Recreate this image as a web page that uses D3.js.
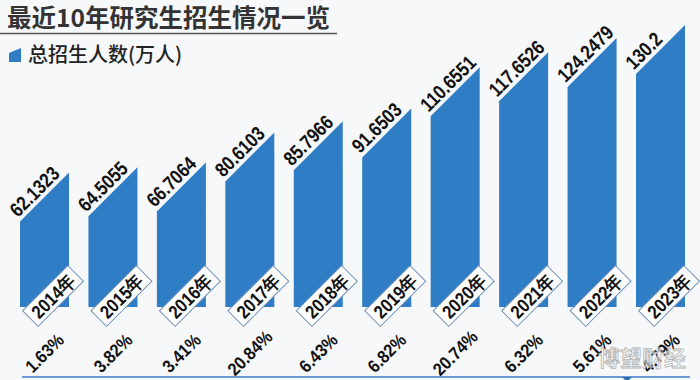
<!DOCTYPE html>
<html><head><meta charset="utf-8">
<script src="https://cdn.jsdelivr.net/npm/d3@7"></script>
<style>
html,body{margin:0;padding:0;background:#f7f8fa;}
svg{display:block;}
</style></head>
<body>
<svg id="chart" width="700" height="380"></svg>
<script>
const years = ["2014年","2015年","2016年","2017年","2018年","2019年","2020年","2021年","2022年","2023年"];
const enrolment = [62.1323,64.5055,66.7064,80.6103,85.7966,91.6503,110.6551,117.6526,124.2479,130.2];
const valueLabels = ["62.1323","64.5055","66.7064","80.6103","85.7966","91.6503","110.6551","117.6526","124.2479","130.2"];
const growth = ["1.63%","3.82%","3.41%","20.84%","6.43%","6.82%","20.74%","6.32%","5.61%","4.79%"];
const title = "最近10年研究生招生情况一览";
const legendLabel = "总招生人数(万人)";

const svg = d3.select("#chart");
const BLUE = "#2f7dc4";
const sans = "'Liberation Sans',Arial,sans-serif";
const cjk = "'Noto Sans CJK SC','Noto Sans',sans-serif";

svg.append("rect").attr("width",700).attr("height",380).attr("fill","#f7f8fa");

// title
svg.append("text").attr("x",7).attr("y",27)
  .attr("font-family",cjk).attr("font-weight",700).attr("font-size",24.5)
  .attr("fill","#333").text(title);
svg.append("line").attr("x1",0).attr("x2",337).attr("y1",33.5).attr("y2",33.5)
  .attr("stroke","#555").attr("stroke-width",1.5);

// legend
svg.append("path").attr("d","M9,53 L21,48 L21,62 L9,62 Z").attr("fill",BLUE);
svg.append("text").attr("x",28).attr("y",62)
  .attr("font-family",cjk).attr("font-weight",500).attr("font-size",20)
  .attr("fill","#222").text(legendLabel);

const x = d3.scaleBand().domain(years).range([20,685]).paddingInner(0.284).paddingOuter(0);
const y = d3.scaleLinear().domain([0,130.2]).range([307,25]);
const bw = x.bandwidth();
const data = years.map((yr,i)=>({yr, v:enrolment[i], lab:valueLabels[i], g:growth[i]}));

// bars with 45-degree cut top
svg.append("g").selectAll("path").data(data).join("path")
  .attr("fill",BLUE)
  .attr("d",d=>{
    const x0=x(d.yr), x1=x0+bw, yt=y(d.v), yb=y(0);
    return `M${x0},${yb} L${x0},${yt+bw} L${x1},${yt} L${x1},${yb} Z`;
  });

// value labels along slope
svg.append("g").selectAll("text").data(data).join("text")
  .attr("transform",d=>{
    const px=x(d.yr), py=y(d.v)+bw;
    const ax=px+1*0.707-4*0.707, ay=py-1*0.707-4*0.707;
    return `translate(${ax},${ay}) rotate(-45) scale(0.84,1)`;
  })
  .attr("font-family",sans).attr("font-weight",700).attr("font-size",20)
  .attr("fill","#111").text(d=>d.lab);

// year label boxes
const yl = svg.append("g").selectAll("g").data(data).join("g")
  .attr("transform",d=>`translate(${x(d.yr)+bw/2+8.5},${y(0)-11}) rotate(-45)`);
yl.append("rect").attr("x",-32).attr("y",-11).attr("width",64).attr("height",22)
  .attr("fill","#fff").attr("stroke","#6b8fb9").attr("stroke-width",1);
yl.append("text").attr("x",0).attr("y",7).attr("text-anchor","middle")
  .attr("transform","scale(0.86,1)")
  .attr("font-family",sans).attr("font-weight",700).attr("font-size",19)
  .attr("fill","#111").text(d=>d.yr);

// growth labels
svg.append("g").selectAll("text").data(data).join("text")
  .attr("transform",d=>`translate(${x(d.yr)+bw/2},${353}) rotate(-45) scale(0.9,1)`)
  .attr("text-anchor","middle").attr("dy","0.35em")
  .attr("font-family",sans).attr("font-weight",700).attr("font-size",18)
  .attr("fill","#111").text(d=>d.g);

// bottom rule
svg.append("line").attr("x1",22).attr("x2",690).attr("y1",377).attr("y2",377)
  .attr("stroke","#6e9bd6").attr("stroke-width",2);
svg.append("path").attr("d","M622,377 L632,377 L627,382 Z").attr("fill","#2f6fb8");

// watermark
svg.append("text").attr("x",598).attr("y",366)
  .attr("font-family",cjk).attr("font-size",22).attr("font-weight",500)
  .attr("fill","#ffffff").attr("fill-opacity",0.7)
  .attr("stroke","#a0a0a0").attr("stroke-width",0.8).attr("stroke-opacity",0.8)
  .text("博望财经");
</script>
</body></html>
